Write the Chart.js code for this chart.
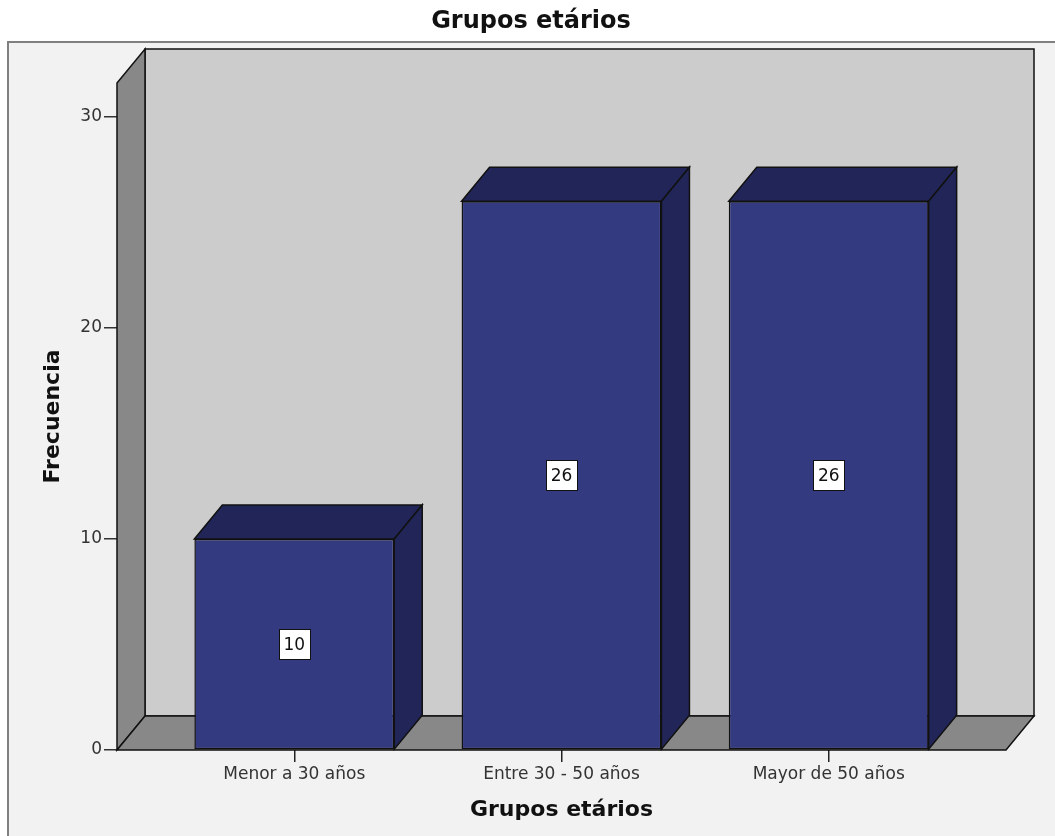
<!DOCTYPE html>
<html>
<head>
<meta charset="utf-8">
<script src="https://cdn.jsdelivr.net/npm/chart.js@4/dist/chart.umd.min.js"></script>
<style>
  html, body { margin: 0; padding: 0; background: #ffffff; }
  #wrap { width: 1055px; height: 836px; }
</style>
</head>
<body>
<div id="wrap"><canvas id="c" width="1055" height="836"></canvas></div>
<script>
// Age groups and their frequencies
const categories = ['Menor a 30 años', 'Entre 30 - 50 años', 'Mayor de 50 años'];
const frequencies = [10, 26, 26];
const yTicks = [0, 10, 20, 30];
const chartTitle = 'Grupos etários';

const FONT = 'DejaVu Sans';
const DEPTH_X = 28;   // receding depth of the 3D box, horizontal
const DEPTH_Y = 34;   // receding depth of the 3D box, vertical
const FRONT = '#343a80';
const SHADE = '#212558';
const EDGE = '#111111';

function poly(ctx, pts, fill) {
  ctx.beginPath();
  ctx.moveTo(pts[0][0], pts[0][1]);
  for (let i = 1; i < pts.length; i++) ctx.lineTo(pts[i][0], pts[i][1]);
  ctx.closePath();
  ctx.fillStyle = fill;
  ctx.fill();
  ctx.stroke();
}

// Frame behind the whole plot, with the heading above it
const framePlugin = {
  id: 'frame',
  beforeDraw(chart) {
    const ctx = chart.ctx;
    ctx.save();
    ctx.fillStyle = '#ffffff';
    ctx.fillRect(0, 0, chart.width, chart.height);
    ctx.fillStyle = '#f2f2f2';
    ctx.fillRect(8, 42, chart.width, chart.height);
    ctx.strokeStyle = '#808080';
    ctx.lineWidth = 2;
    ctx.strokeRect(8, 42, chart.width + 10, chart.height + 10);
    ctx.fillStyle = '#111111';
    ctx.font = 'bold 24px "' + FONT + '"';
    ctx.textAlign = 'center';
    ctx.textBaseline = 'middle';
    ctx.fillText(chartTitle, 531, 22);
    ctx.restore();
  }
};

// Back wall, side wall and floor of the 3D box
const wallsPlugin = {
  id: 'walls',
  beforeDatasetsDraw(chart) {
    const ctx = chart.ctx;
    const y = chart.scales.y;
    const L = chart.chartArea.left, R = chart.chartArea.right;
    const T = y.getPixelForValue(y.max), B = y.getPixelForValue(0);
    ctx.save();
    ctx.strokeStyle = EDGE;
    ctx.lineWidth = 1.5;
    ctx.lineJoin = 'miter';
    // back wall
    poly(ctx, [[L + DEPTH_X, T - DEPTH_Y], [R + DEPTH_X, T - DEPTH_Y], [R + DEPTH_X, B - DEPTH_Y], [L + DEPTH_X, B - DEPTH_Y]], '#cccccc');
    // left wall
    poly(ctx, [[L, T], [L + DEPTH_X, T - DEPTH_Y], [L + DEPTH_X, B - DEPTH_Y], [L, B]], '#888888');
    // floor
    poly(ctx, [[L, B], [L + DEPTH_X, B - DEPTH_Y], [R + DEPTH_X, B - DEPTH_Y], [R, B]], '#888888');
    ctx.restore();
  }
};

// Top and side faces of each bar plus the value labels
const boxPlugin = {
  id: 'box3d',
  afterDatasetsDraw(chart) {
    const ctx = chart.ctx;
    const meta = chart.getDatasetMeta(0);
    ctx.save();
    ctx.strokeStyle = EDGE;
    ctx.lineWidth = 1.5;
    meta.data.forEach((bar) => {
      const p = bar.getProps(['x', 'y', 'base', 'width'], true);
      const l = p.x - p.width / 2, r = p.x + p.width / 2;
      poly(ctx, [[l, p.y], [l + DEPTH_X, p.y - DEPTH_Y], [r + DEPTH_X, p.y - DEPTH_Y], [r, p.y]], SHADE);
      poly(ctx, [[r, p.y], [r + DEPTH_X, p.y - DEPTH_Y], [r + DEPTH_X, p.base - DEPTH_Y], [r, p.base]], SHADE);
    });
    ctx.font = '17px "' + FONT + '"';
    ctx.textAlign = 'center';
    ctx.textBaseline = 'middle';
    ctx.lineWidth = 1;
    meta.data.forEach((bar, i) => {
      const p = bar.getProps(['x', 'y', 'base'], true);
      const cy = (p.y + p.base) / 2;
      const txt = String(frequencies[i]);
      const w = ctx.measureText(txt).width + 9;
      const h = 30;
      ctx.fillStyle = '#ffffff';
      ctx.fillRect(Math.round(p.x - w / 2) + 0.5, Math.round(cy - h / 2) + 0.5, Math.round(w), h);
      ctx.strokeStyle = '#111111';
      ctx.strokeRect(Math.round(p.x - w / 2) + 0.5, Math.round(cy - h / 2) + 0.5, Math.round(w), h);
      ctx.fillStyle = '#111111';
      ctx.fillText(txt, p.x, cy + 1);
    });
    ctx.restore();
  }
};

new Chart(document.getElementById('c'), {
  type: 'bar',
  data: {
    datasets: [{
      label: 'Frecuencia',
      data: frequencies.map((v, i) => ({ x: i, y: v })),
      backgroundColor: FRONT,
      borderColor: EDGE,
      borderWidth: 1.5,
      borderSkipped: false,
      categoryPercentage: 1,
      barPercentage: 0.748
    }]
  },
  options: {
    responsive: false,
    animation: false,
    events: [],
    layout: { padding: { left: 0, right: 49, top: 83, bottom: 0 } },
    plugins: {
      legend: { display: false },
      tooltip: { enabled: false },
      title: { display: false }
    },
    scales: {
      x: {
        type: 'linear',
        min: -0.6635,
        max: 2.6635,
        offset: false,
        afterBuildTicks(scale) { scale.ticks = categories.map((c, i) => ({ value: i })); },
        afterFit(scale) { scale.height = 86; },
        border: { display: false },
        grid: { offset: false, drawOnChartArea: false, drawTicks: true, tickLength: 12, color: '#222222', lineWidth: 1.5 },
        ticks: {
          padding: 2,
          color: '#333333',
          font: { family: FONT, size: 17 },
          maxRotation: 0,
          autoSkip: false,
          callback: (v) => categories[v]
        },
        title: {
          display: true,
          text: 'Grupos etários',
          color: '#111111',
          font: { family: FONT, size: 22, weight: 'bold' },
          padding: { top: 0, bottom: 13 }
        }
      },
      y: {
        min: 0,
        max: 31.6,
        afterBuildTicks(scale) { scale.ticks = yTicks.map((v) => ({ value: v })); },
        afterFit(scale) { scale.width = 117; },
        border: { display: false },
        grid: { drawOnChartArea: false, drawTicks: true, tickLength: 13, color: '#333333', lineWidth: 1.5 },
        ticks: {
          padding: 2,
          color: '#333333',
          font: { family: FONT, size: 17 }
        },
        title: {
          display: true,
          text: 'Frecuencia',
          color: '#111111',
          font: { family: FONT, size: 22, weight: 'bold' },
          padding: { top: 40, bottom: 0 }
        }
      }
    }
  },
  plugins: [framePlugin, wallsPlugin, boxPlugin]
});
</script>
</body>
</html>
